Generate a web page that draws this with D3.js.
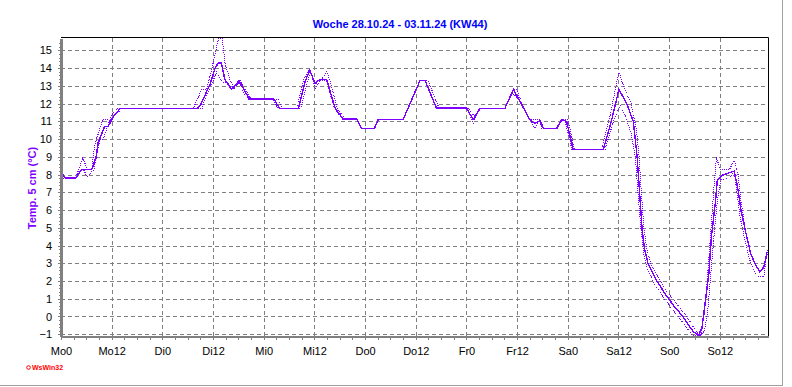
<!DOCTYPE html>
<html>
<head>
<meta charset="utf-8">
<script src="https://d3js.org/d3.v7.min.js"></script>
<style>
body { margin: 0; background: #fff; }
svg { display: block; font-family: "Liberation Sans", Arial, sans-serif; }
.grid line { stroke: #808080; stroke-dasharray: 4,3; shape-rendering: crispEdges; }
.axis path, .axis line { stroke: #808080; shape-rendering: crispEdges; }
.axis text { fill: #000; font-size: 11px; }
.temp { fill: none; stroke: #8000ff; shape-rendering: crispEdges; }
</style>
</head>
<body>
<svg></svg>
<script>

var width = 792;
var height = 387;

// x tick labels, one every 12 hours (hour 0 = Monday 0:00)
var tickLabels = ["Mo0","Mo12","Di0","Di12","Mi0","Mi12","Do0","Do12","Fr0","Fr12","Sa0","Sa12","So0","So12"];
var yTicks = [-1,0,1,2,3,4,5,6,7,8,9,10,11,12,13,14,15];

// [hour, temperature]
var avgTemp = [[0,8.05],[1,7.8],[3.5,7.8],[4.9,8.3],[7.3,8.3],[8.3,9.0],[8.8,9.8],[10.3,10.7],[11.2,10.72],[12.4,11.28],[14,11.72],
  [32.1,11.72],[33,11.9],[35.3,13.1],[36.5,14.0],[37.2,14.28],[38,14.28],[38.8,13.35],[40.4,12.8],[42.2,13.3],[43.5,12.7],[44.7,12.26],
  [50.4,12.26],[51.8,11.73],[56.2,11.73],[57.8,13.25],[58.9,13.9],[60.1,13.15],[61.3,13.35],[62.9,13.35],[64.9,11.75],[66.8,11.13],
  [70,11.13],[71.2,10.6],[74.2,10.6],[75.1,11.1],[81,11.1],[85,13.3],[86.2,13.3],[88.9,11.75],[96,11.75],[97.6,11.1],[99.2,11.73],
  [105.1,11.73],[107.1,12.8],[109,12.0],[111,11.1],[112.2,10.87],[113.4,11.05],[114.2,10.6],[117.5,10.6],[118.5,11.1],[119.7,11.0],
  [121.3,9.4],[128.4,9.4],[130.3,11.0],[132.1,12.8],[133.9,12.03],[135.5,11.0],[136.4,9.03],[137,6.96],[137.6,4.9],[138.2,3.77],
  [139,2.98],[141,2.04],[143,1.29],[145,0.63],[147,0.07],[148.6,-0.49],[149.8,-0.87],[151,-1.05],[151.8,-0.59],[152.6,0.92],
  [153.4,2.42],[154,4.48],[155,6.55],[155.4,7.68],[156.6,7.96],[158.2,8.1],[159.4,8.2],[160.2,7.3],[161,5.99],[162.2,4.67],
  [163.3,3.55],[164.5,2.89],[165.5,2.51],[166.4,2.79],[167.2,3.64]];

var maxTemp = [[0,8.35],[1,7.8],[3.5,7.8],[5.1,8.93],[6.3,8.3],[7.3,8.3],[8.0,9.7],[9.9,11.1],[11.2,11.1],[13.2,11.72],
  [31.3,11.72],[33.3,12.8],[34.5,12.8],[36.4,14.66],[37.3,15.7],[38.2,15.7],[38.8,14.3],[40,13.35],[41,12.8],[42.4,13.3],[43.8,12.7],[45.2,12.26],
  [51.4,12.26],[52.4,11.73],[55.8,11.73],[57.4,13.3],[58.6,13.9],[59.6,13.5],[60.3,13.1],[61.2,13.35],[62.3,13.5],[62.9,13.85],[63.6,13.35],
  [65.4,11.75],[67.2,11.13],[70,11.13],[71.2,10.6],[74.2,10.6],[75.1,11.1],[81,11.1],[85,13.3],[86.9,13.3],[89.5,11.75],[96.3,11.75],
  [97.9,11.3],[99.3,11.73],[105.1,11.73],[107.3,12.8],[107.9,12.8],[109.5,11.75],[111,11.1],[113.4,11.1],[114.3,10.6],[117.3,10.6],
  [118.3,11.1],[120,11.1],[121.6,9.4],[128,9.4],[130,11.3],[132.1,13.8],[133.3,12.9],[135,12.0],[136.2,10.6],[136.9,9.0],[137.4,7.0],
  [138,5.0],[138.7,3.8],[139.6,3.0],[141.5,2.2],[143.5,1.4],[145.5,0.8],[147.5,0.2],[149,-0.3],[150.5,-0.9],[151.6,-1.1],[152.3,0.2],
  [153,2.0],[153.8,4.6],[154.5,7.0],[155.2,9.0],[156,8.3],[158.3,8.3],[159.4,8.8],[160.3,8.0],[161,6.55],[162.3,4.48],[163.4,3.5],
  [164.3,2.98],[165.5,2.51],[166.3,2.7],[167.2,3.5]];

var minTemp = [[0,7.8],[3.5,7.8],[4.9,8.3],[5.3,8.3],[6.2,7.87],[7.8,8.3],[9.2,9.96],[10,10.0],[11.6,11.1],[13.5,11.5],[14.5,11.72],
  [33.4,11.72],[34.1,12.27],[35.3,12.9],[36.9,13.8],[37.8,13.35],[38.5,13.2],[39.5,13.2],[40.6,12.8],[42.2,13.2],[43.3,12.6],[44.4,12.26],
  [50,12.26],[51.3,11.73],[56.8,11.73],[58.4,13.3],[59.2,13.8],[60.1,12.84],[61.3,13.3],[62.8,13.3],[64.7,11.75],[66.6,11.13],
  [70,11.13],[71.2,10.6],[74.2,10.6],[75.1,11.1],[81,11.1],[85,13.3],[86.2,13.3],[88.9,11.75],[96,11.75],[97.6,10.9],[99.1,11.73],
  [105.1,11.73],[106.9,12.6],[108.6,12.2],[109.4,11.75],[111,11.1],[112.2,10.6],[113.2,11.1],[113.8,10.6],[117.5,10.6],[118.7,11.1],
  [119.4,11.0],[121,9.4],[128.8,9.4],[130.8,11.0],[132.4,11.9],[133.6,11.3],[135,10.3],[136,9.0],[136.6,7.0],[137.3,5.0],[138,3.5],
  [138.8,2.7],[140.6,1.8],[142.6,1.1],[144.6,0.45],[146.6,-0.15],[148.2,-0.65],[149.5,-1.05],[151.2,-1.1],[152.4,-0.8],[153.2,0.5],
  [154,2.8],[154.6,4.5],[155.4,6.5],[156.2,7.7],[158.2,7.8],[159.4,8.2],[160.1,6.9],[160.8,5.6],[162,4.2],[163.2,3.1],[164.5,2.4],
  [165.2,2.23],[166.4,2.23],[167.2,3.73]];

var svg = d3.select('svg').attr("width", width).attr("height", height);

var plotLeft = 61, plotRight = 768, plotTop = 38, plotBottom = 336;

var x = d3.scaleLinear().domain([0, 167.4]).range([plotLeft, plotRight]);
var y = d3.scaleLinear().domain([-1.1, 15.7]).range([plotBottom, plotTop]);

// outer frame (shadow edges only)
svg.append("line").attr("x1", 782.5).attr("x2", 782.5).attr("y1", 0).attr("y2", 386)
  .attr("stroke", "#a0a0a0");
svg.append("line").attr("x1", 0).attr("x2", 782.5).attr("y1", 385.5).attr("y2", 385.5)
  .attr("stroke", "#a0a0a0");

// grid
var grid = svg.append("g").attr("class", "grid");
grid.selectAll(".h").data(yTicks).enter().append("line")
  .attr("x1", plotLeft).attr("x2", plotRight)
  .attr("y1", function(d) { return Math.round(y(d)) + 0.5; })
  .attr("y2", function(d) { return Math.round(y(d)) + 0.5; });
grid.selectAll(".v").data(tickLabels.slice(1)).enter().append("line")
  .attr("x1", function(d, i) { return Math.round(x((i + 1) * 12)) + 0.5; })
  .attr("x2", function(d, i) { return Math.round(x((i + 1) * 12)) + 0.5; })
  .attr("y1", plotTop).attr("y2", plotBottom);

// lines
var line = d3.line()
  .x(function(d) { return x(d[0]); })
  .y(function(d) { return y(d[1]); });

svg.append("path").datum(maxTemp).attr("d", line)
  .attr("class", "temp").attr("stroke-width", 1).attr("stroke-dasharray", "1,1");
svg.append("path").datum(minTemp).attr("d", line)
  .attr("class", "temp").attr("stroke-width", 1).attr("stroke-dasharray", "1,1");
svg.append("path").datum(avgTemp).attr("d", line)
  .attr("class", "temp").attr("stroke-width", 1.4);

// top and right border
svg.append("path")
  .attr("d", "M" + plotLeft + "," + (plotTop - 0.5) + "H" + (plotRight + 0.5) + "V" + plotBottom)
  .attr("fill", "none").attr("stroke", "#000").attr("stroke-width", 1);

// x axis: minor ticks every 3 h, labels every 12 h
svg.append("g").attr("class", "axis")
  .attr("transform", "translate(0," + plotBottom + ")")
  .call(d3.axisBottom(x).tickValues(d3.range(0, 168, 3)).tickSize(4).tickFormat("").tickSizeOuter(0));
var xAxis = svg.append("g").attr("class", "axis")
  .attr("transform", "translate(0," + plotBottom + ")")
  .call(d3.axisBottom(x).tickValues(d3.range(0, 168, 12)).tickSize(4).tickPadding(7).tickSizeOuter(0)
    .tickFormat(function(d, i) { return tickLabels[i]; }));
xAxis.select(".domain").attr("stroke-width", 2);

// y axis
svg.append("g").attr("class", "axis")
  .attr("transform", "translate(" + plotLeft + ",0)")
  .call(d3.axisLeft(y).tickValues(d3.range(-1.0, 15.6, 0.2)).tickSize(2).tickFormat("").tickSizeOuter(0));
var yAxis = svg.append("g").attr("class", "axis")
  .attr("transform", "translate(" + plotLeft + ",0)")
  .call(d3.axisLeft(y).tickValues(yTicks).tickSize(3).tickPadding(6).tickSizeOuter(0));
yAxis.select(".domain").attr("stroke-width", 3);

// title and labels
svg.append("text").attr("x", 400).attr("y", 28).attr("text-anchor", "middle")
  .style("font-size", "11px").style("font-weight", "bold").attr("fill", "#0000ff")
  .text("Woche 28.10.24 - 03.11.24 (KW44)");

svg.append("text").attr("transform", "translate(36,188) rotate(-90)").attr("text-anchor", "middle")
  .style("font-size", "11px").style("font-weight", "bold").attr("fill", "#8000ff")
  .text("Temp. 5 cm  (°C)");

svg.append("circle").attr("cx", 28.5).attr("cy", 367.5).attr("r", 1.8)
  .attr("fill", "none").attr("stroke", "#ff0000").attr("stroke-width", 1);
svg.append("text").attr("x", 32).attr("y", 370)
  .style("font-size", "7px").style("font-weight", "bold").attr("fill", "#ff0000")
  .text("WsWin32");

</script>
</body>
</html>
